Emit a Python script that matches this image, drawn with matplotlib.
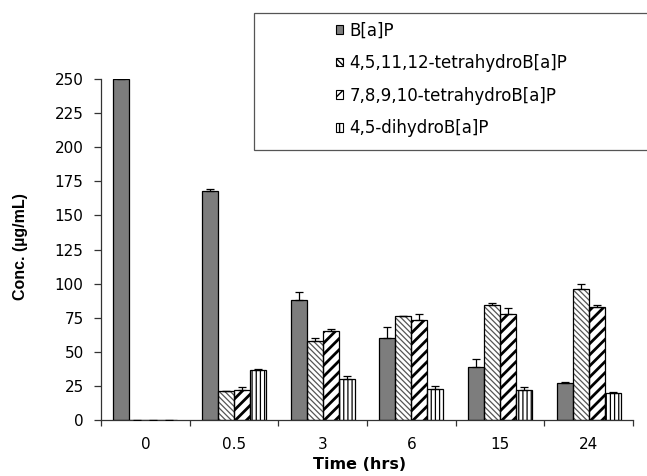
import numpy as np
import matplotlib
matplotlib.use("Agg")
import matplotlib.pyplot as plt
from matplotlib.patches import Rectangle, Patch

plt.rcParams['font.family'] = ['DejaVu Sans']

categories = ["0", "0.5", "3", "6", "15", "24"]
series_names = ["B[a]P", "4,5,11,12-tetrahydroB[a]P",
                "7,8,9,10-tetrahydroB[a]P", "4,5-dihydroB[a]P"]
bap = [250, 168, 88, 60, 39, 27]
bap_err = [np.nan, 1.5, 6, 8, 6, 1]
tetra1 = [0, 21, 58, 76, 84, 96]
tetra1_err = [np.nan, 0.5, 2, 0.5, 2, 4]
tetra2 = [0, 22, 65, 73, 78, 83]
tetra2_err = [np.nan, 2, 2, 5, 4, 1]
dihydro = [0, 37, 30, 23, 22, 20]
dihydro_err = [np.nan, 0.3, 2, 2, 2, 0.5]

values = [bap, tetra1, tetra2, dihydro]
errors = [bap_err, tetra1_err, tetra2_err, dihydro_err]

styles = [
    dict(facecolor="#7d7d7d", hatch=None, hatchcolor="black", hlw=1.0),
    dict(facecolor="white", hatch="\\\\\\\\\\\\", hatchcolor="#555555", hlw=0.9),
    dict(facecolor="white", hatch="///", hatchcolor="black", hlw=2.0),
    dict(facecolor="white", hatch="||||", hatchcolor="black", hlw=0.9),
]

fig = plt.figure(figsize=(6.47, 4.76), dpi=100)
ax = fig.add_axes([101/647, 1-420/476, (633-101)/647, (420-79)/476])

x = np.arange(len(categories))
w = 0.18
offsets = (np.arange(4) - 1.5) * w

handles = []
for k in range(4):
    st = styles[k]
    vals = np.array(values[k], dtype=float)
    errs = np.array(errors[k], dtype=float)
    with plt.rc_context({'hatch.linewidth': st['hlw'], 'hatch.color': st['hatchcolor']}):
        bars = ax.bar(x + offsets[k], vals, w, facecolor=st['facecolor'],
                      edgecolor=st['hatchcolor'] if st['hatch'] else 'black',
                      hatch=st['hatch'], linewidth=0, zorder=2)
        for b in bars:
            if hasattr(b, 'set_hatch_linewidth'):
                b.set_hatch_linewidth(st['hlw'])
    ax.bar(x + offsets[k], vals, w, fill=False, edgecolor='black', linewidth=0.9, zorder=3)
    lower = np.zeros_like(errs)
    ax.errorbar(x + offsets[k], vals, yerr=[lower, errs], fmt='none',
                ecolor='black', elinewidth=0.9, capsize=2.6, capthick=0.9, zorder=4)
    with plt.rc_context({'hatch.linewidth': st['hlw'] * 0.6, 'hatch.color': st['hatchcolor']}):
        h = Patch(facecolor=st['facecolor'], edgecolor='black',
                  hatch=st['hatch'], linewidth=0.8, label=series_names[k])
        if hasattr(h, 'set_hatch_linewidth'):
            h.set_hatch_linewidth(st['hlw'] * 0.6)
        handles.append(h)

ax.set_xlim(-0.5, len(categories) - 0.5)
ax.set_ylim(0, 250)
ax.set_yticks(np.arange(0, 251, 25))
ax.set_xticks(np.arange(len(categories) + 1) - 0.5)
ax.set_xticklabels([])
ax.set_xticks(x, minor=True)
ax.set_xticklabels(categories, minor=True)
ax.tick_params(axis='x', which='minor', length=0, pad=12, labelsize=11)
ax.tick_params(axis='x', which='major', length=4.5, width=0.9, direction='out', color='#333333')
ax.tick_params(axis='y', length=5, width=0.9, direction='out', labelsize=11,
               color='#333333', pad=7.5)
for s in ['top', 'right']:
    ax.spines[s].set_visible(False)
for s in ['left', 'bottom']:
    ax.spines[s].set_color('#333333')
    ax.spines[s].set_linewidth(0.9)

ax.set_xlabel("Time (hrs)", fontsize=11.5, fontweight='bold')
ax.xaxis.set_label_coords((360-101)/532, (420-457)/341)
ax.set_ylabel("Conc. (µg/mL)", fontsize=11.5, fontweight='bold',
              family=['Liberation Sans', 'DejaVu Sans'])
ax.yaxis.set_label_coords((28-101)/532, (420-247)/341)

fig.patches.append(Rectangle((254/647, 1-150/476), 0.7, (150-13)/476,
                             transform=fig.transFigure, facecolor='white',
                             edgecolor='#555555', linewidth=0.9, zorder=5))
leg = fig.legend(handles=handles, loc='upper left',
                 bbox_to_anchor=(328/647, 1-13/476), frameon=False,
                 fontsize=12, handlelength=0.42, handleheight=0.42,
                 handletextpad=0.35, labelspacing=0.88, borderpad=0.0)
leg.set_zorder(6)

fig.savefig("out.png", dpi=100)
